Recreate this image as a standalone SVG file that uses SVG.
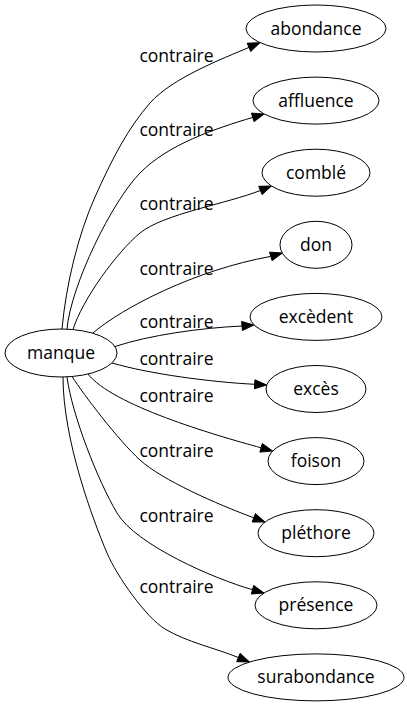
<svg xmlns="http://www.w3.org/2000/svg" width="407" height="707" viewBox="0 0 407 707">
<style>
.n ellipse{fill:#fff;stroke:#000;stroke-width:1}
text{font-family:"Open Sans","Noto Sans","DejaVu Sans",sans-serif;font-size:17.5px;fill:#000;text-anchor:middle}
.e path{fill:none;stroke:#000;stroke-width:1}
.e polygon{fill:#000;stroke:#000;stroke-width:1}
</style>
<rect width="407" height="707" fill="#fff"/>
<g id="edges" class="e">
<path d="M62,329 C66,285 78,235 95,197 S128,128 150,103 C172,78 223,58.5 249,47.4"/>
<polygon points="260,42.7 250.7,51.5 247.2,43.2"/>
<path d="M67,329 C71,285 112,201.5 140,173 C168,144.5 214,129 252.7,117.4"/>
<polygon points="264.2,114 254,121.7 251.4,113.1"/>
<path d="M73,329.6 C82,300 117,252 140,233 C163,214 228,203.4 260.4,190.45"/>
<polygon points="271.5,186 262.1,194.6 258.7,186.3"/>
<path d="M93,333 C122,308 195,270 270.8,256.4"/>
<polygon points="282.3,253 272.1,260.7 269.5,252.1"/>
<path d="M115,346.5 C150,335 200,328 242,326"/>
<polygon points="254,325 242.4,330.5 241.6,321.5"/>
<path d="M112,363 C150,374 210,382 254.7,384.3"/>
<polygon points="266.7,385 254.45,388.8 254.95,379.8"/>
<path d="M88,374 C112,405 212.8,434.6 261.1,447.8"/>
<polygon points="272.7,451 259.9,452.1 262.3,443.5"/>
<path d="M72,376.5 C84,395 118,440 140,460 C162,480 216.3,503.9 253.8,517.8"/>
<polygon points="265,522 252.2,522 255.4,513.6"/>
<path d="M67,377 C72,415 98,481 117,513 C136,545 214,578.7 252.5,589.7"/>
<polygon points="264,593 251.3,594 253.7,585.4"/>
<path d="M63,377 C63,440 93,520 107,553 C116.75,576 146.1,617.7 165,629 C186.4,641.9 215.25,648.1 238.4,657.5"/>
<polygon points="249.5,662 236.7,661.7 240.1,653.3"/>
<text x="176.5" y="61.5">contraire</text>
<text x="176.5" y="136">contraire</text>
<text x="176.5" y="210">contraire</text>
<text x="176.5" y="275">contraire</text>
<text x="176.5" y="328">contraire</text>
<text x="176.5" y="365">contraire</text>
<text x="176.5" y="402">contraire</text>
<text x="176.5" y="457">contraire</text>
<text x="176.5" y="522">contraire</text>
<text x="176.5" y="593">contraire</text>
</g>
<g id="manque" class="n"><ellipse cx="61" cy="353" rx="56" ry="24"/><text x="61" y="359">manque</text></g>
<g id="abondance" class="n"><ellipse cx="316" cy="28.5" rx="70" ry="23.5"/><text x="316" y="34.5">abondance</text></g>
<g id="affluence" class="n"><ellipse cx="316" cy="100.6" rx="63" ry="23.5"/><text x="316" y="106.6">affluence</text></g>
<g id="comble" class="n"><ellipse cx="316" cy="172.7" rx="54" ry="23.5"/><text x="316" y="178.7">comblé</text></g>
<g id="don" class="n"><ellipse cx="316" cy="244.8" rx="36" ry="23.5"/><text x="316" y="250.8">don</text></g>
<g id="excedent" class="n"><ellipse cx="316" cy="316.9" rx="66" ry="23.5"/><text x="316" y="322.9">excèdent</text></g>
<g id="exces" class="n"><ellipse cx="316" cy="389" rx="50" ry="23.5"/><text x="316" y="395">excès</text></g>
<g id="foison" class="n"><ellipse cx="316" cy="461.1" rx="48" ry="23.5"/><text x="316" y="467.1">foison</text></g>
<g id="plethore" class="n"><ellipse cx="316" cy="533.2" rx="58" ry="23.5"/><text x="316" y="539.2">pléthore</text></g>
<g id="presence" class="n"><ellipse cx="316" cy="605.3" rx="61" ry="23.5"/><text x="316" y="611.3">présence</text></g>
<g id="surabondance" class="n"><ellipse cx="316" cy="677.4" rx="88" ry="23.5"/><text x="316" y="683.4">surabondance</text></g>
</svg>
